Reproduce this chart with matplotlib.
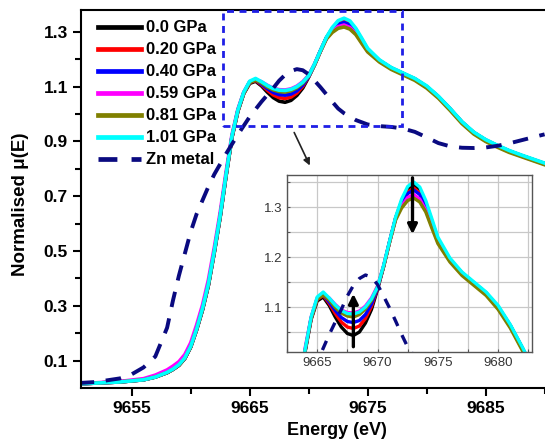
import numpy as np
import matplotlib
matplotlib.use("Agg")
import matplotlib.pyplot as plt
from matplotlib.patches import Rectangle, FancyArrowPatch

plt.rcParams['font.family'] = ['Liberation Sans', 'DejaVu Sans']

# energy grid for the Zn K-edge spectra (eV)
energy = [9650.5, 9652, 9654, 9656, 9657, 9658, 9658.5, 9659, 9659.5, 9660,
          9660.5, 9661, 9661.5, 9662, 9662.5, 9663, 9663.5, 9664, 9664.5, 9665,
          9665.5, 9666, 9666.5, 9667, 9667.5, 9668, 9668.5, 9669, 9669.5, 9670,
          9670.5, 9671, 9671.5, 9672, 9672.5, 9673, 9673.5, 9674, 9674.5, 9675,
          9676, 9677, 9678, 9679, 9680, 9681, 9682, 9683, 9684, 9685,
          9686, 9687, 9688, 9689, 9690]

mu_000 = [0.015, 0.018, 0.022, 0.030, 0.040, 0.056, 0.068, 0.083, 0.108, 0.150,
          0.212, 0.285, 0.375, 0.495, 0.625, 0.775, 0.915, 1.010, 1.075, 1.112,
          1.120, 1.103, 1.080, 1.060, 1.047, 1.043, 1.050, 1.068, 1.095, 1.135,
          1.180, 1.230, 1.278, 1.312, 1.336, 1.345, 1.335, 1.308, 1.272, 1.236,
          1.195, 1.168, 1.148, 1.128, 1.100, 1.063, 1.018, 0.970, 0.932, 0.905,
          0.884, 0.865, 0.849, 0.834, 0.819]
mu_020 = [0.015, 0.018, 0.022, 0.030, 0.040, 0.056, 0.068, 0.083, 0.108, 0.150,
          0.213, 0.286, 0.376, 0.496, 0.626, 0.776, 0.916, 1.012, 1.077, 1.115,
          1.123, 1.107, 1.087, 1.070, 1.060, 1.057, 1.062, 1.077, 1.101, 1.137,
          1.181, 1.231, 1.278, 1.309, 1.330, 1.338, 1.328, 1.304, 1.269, 1.234,
          1.195, 1.168, 1.148, 1.128, 1.100, 1.063, 1.018, 0.970, 0.932, 0.905,
          0.884, 0.865, 0.849, 0.834, 0.819]
mu_040 = [0.015, 0.018, 0.022, 0.030, 0.040, 0.056, 0.068, 0.083, 0.108, 0.150,
          0.214, 0.287, 0.377, 0.497, 0.627, 0.777, 0.917, 1.013, 1.078, 1.117,
          1.125, 1.110, 1.093, 1.079, 1.071, 1.069, 1.073, 1.085, 1.106, 1.138,
          1.181, 1.231, 1.277, 1.306, 1.327, 1.334, 1.325, 1.301, 1.267, 1.233,
          1.195, 1.168, 1.148, 1.128, 1.100, 1.063, 1.018, 0.970, 0.932, 0.905,
          0.884, 0.865, 0.849, 0.834, 0.819]
mu_059 = [0.016, 0.019, 0.024, 0.034, 0.047, 0.066, 0.080, 0.096, 0.122, 0.165,
          0.230, 0.303, 0.395, 0.513, 0.642, 0.790, 0.925, 1.018, 1.080, 1.118,
          1.126, 1.118, 1.105, 1.094, 1.089, 1.088, 1.092, 1.102, 1.118, 1.142,
          1.182, 1.230, 1.276, 1.302, 1.319, 1.325, 1.316, 1.294, 1.262, 1.230,
          1.193, 1.166, 1.146, 1.126, 1.098, 1.061, 1.016, 0.968, 0.930, 0.903,
          0.882, 0.863, 0.847, 0.832, 0.817]
mu_081 = [0.015, 0.018, 0.022, 0.030, 0.040, 0.056, 0.068, 0.083, 0.108, 0.150,
          0.214, 0.287, 0.377, 0.497, 0.627, 0.777, 0.917, 1.013, 1.077, 1.116,
          1.124, 1.114, 1.099, 1.088, 1.082, 1.080, 1.085, 1.096, 1.113, 1.140,
          1.180, 1.229, 1.274, 1.298, 1.313, 1.318, 1.310, 1.290, 1.258, 1.227,
          1.190, 1.163, 1.143, 1.123, 1.095, 1.058, 1.013, 0.965, 0.927, 0.900,
          0.879, 0.860, 0.845, 0.830, 0.815]
mu_101 = [0.015, 0.018, 0.022, 0.030, 0.040, 0.057, 0.069, 0.085, 0.110, 0.152,
          0.215, 0.290, 0.380, 0.500, 0.630, 0.780, 0.920, 1.015, 1.080, 1.120,
          1.130, 1.118, 1.104, 1.093, 1.087, 1.086, 1.090, 1.100, 1.116, 1.140,
          1.183, 1.232, 1.280, 1.316, 1.341, 1.350, 1.340, 1.313, 1.277, 1.240,
          1.198, 1.170, 1.150, 1.130, 1.103, 1.065, 1.020, 0.972, 0.934, 0.907,
          0.886, 0.867, 0.851, 0.836, 0.821]

pressures = ['0.0 GPa', '0.20 GPa', '0.40 GPa', '0.59 GPa', '0.81 GPa', '1.01 GPa']
colors = ['black', 'red', 'blue', 'magenta', '#808000', 'cyan']
spectra = [mu_000, mu_020, mu_040, mu_059, mu_081, mu_101]

# Zn metal reference foil
zn_energy = [9650.5, 9652, 9654, 9655, 9656, 9657, 9658, 9658.5, 9659, 9659.5,
             9660, 9660.5, 9661, 9661.5, 9662, 9663, 9664, 9665, 9666, 9667, 9667.5,
             9668, 9668.5, 9669, 9669.5, 9670, 9670.5, 9671, 9671.5, 9672, 9672.5,
             9673, 9674, 9675, 9676, 9677, 9678, 9679, 9680, 9681, 9682,
             9683, 9684, 9685, 9686, 9687, 9688, 9689, 9690]
zn_mu = [0.018, 0.022, 0.035, 0.050, 0.075, 0.115, 0.220, 0.320, 0.410, 0.490,
         0.570, 0.635, 0.685, 0.735, 0.780, 0.855, 0.925, 0.990, 1.045, 1.095, 1.122,
         1.143, 1.157, 1.164, 1.160, 1.145, 1.122, 1.098, 1.072, 1.045, 1.020,
         1.003, 0.978, 0.962, 0.956, 0.953, 0.947, 0.935, 0.915, 0.894, 0.882,
         0.877, 0.876, 0.878, 0.884, 0.893, 0.904, 0.915, 0.926]

zoom_box = (9662.7, 0.957, 9677.9, 1.375)

fig = plt.figure(figsize=(5.45, 4.43), dpi=100)
ax = fig.add_axes([0.1486, 0.1242, 0.9394, 0.8533])

for mu, c, lab in zip(spectra, colors, pressures):
    ax.plot(energy, mu, color=c, lw=2.6, label=lab)
ax.plot(zn_energy, zn_mu, color='#0a0a80', lw=2.8, ls=(0, (4, 3)), label='Zn metal')

ax.set_xlim(9650.7, 9694.1)
ax.set_ylim(0.0, 1.38)
ax.set_xticks([9655, 9665, 9675, 9685])
ax.set_xticks([9660, 9670, 9680, 9690], minor=True)
ax.set_yticks([0.1, 0.3, 0.5, 0.7, 0.9, 1.1, 1.3])
ax.set_yticks([0.2, 0.4, 0.6, 0.8, 1.0, 1.2], minor=True)
ax.tick_params(which='major', direction='out', length=6, width=1.5, labelsize=12.5)
ax.tick_params(which='minor', direction='out', length=4, width=1.5)
for lab in ax.get_xticklabels() + ax.get_yticklabels():
    lab.set_fontweight('bold')
for s in ax.spines.values():
    s.set_linewidth(1.5)
ax.set_xlabel('Energy (eV)', fontsize=13, fontweight='bold', labelpad=0)
ax.set_ylabel('Normalised μ(E)', fontsize=13.5, fontweight='bold')
ax.xaxis.set_label_coords((337 - 81) / 512, -0.09)
ax.yaxis.set_label_coords(-0.102, 0.486)

leg = ax.legend(loc='upper left', bbox_to_anchor=(0.004, 1.012), frameon=False,
                handlelength=2.6, handletextpad=0.3, labelspacing=0.42,
                prop={'weight': 'bold', 'size': 12})
for h in leg.get_lines():
    h.set_linewidth(3.4)

x0, y0, x1, y1 = zoom_box
ax.add_patch(Rectangle((x0, y0), x1 - x0, y1 - y0, fill=False, edgecolor='#1f1fe6',
                       lw=2, ls=(0, (2.5, 2)), zorder=5, clip_on=False))

fig.add_artist(FancyArrowPatch((293 / 545, 1 - 130 / 443), (311 / 545, 1 - 168 / 443),
                               transform=fig.transFigure, arrowstyle='-|>',
                               mutation_scale=10, color='#222222', lw=1.2))

# inset: close-up of the pre-edge and white-line region
axin = fig.add_axes([0.5266, 0.2054, 0.4495, 0.3995])
for mu, c in zip(spectra, colors):
    axin.plot(energy, mu, color=c, lw=2.4)
axin.plot(zn_energy, zn_mu, color='#0a0a80', lw=2.4, ls=(0, (3, 3)))
axin.set_xlim(9662.6, 9682.8)
axin.set_ylim(1.01, 1.364)
axin.set_xticks([9665, 9670, 9675, 9680])
axin.set_xticks([9662.5, 9667.5, 9672.5, 9677.5, 9682.5], minor=True)
axin.set_yticks([1.1, 1.2, 1.3])
axin.set_yticks([1.05, 1.15, 1.25, 1.35], minor=True)
axin.grid(which='both', color='#c8c8c8', lw=0.9)
axin.set_axisbelow(True)
axin.tick_params(which='both', direction='in', length=2, width=0.8, color='#555555',
                 labelsize=9.5, labelcolor='#333333')
for s in axin.spines.values():
    s.set_linewidth(1.0)
    s.set_color('#555555')

axin.annotate('', xy=(9668.0, 1.132), xytext=(9668.0, 1.015),
              arrowprops=dict(arrowstyle='-|>', color='black', lw=2.4, mutation_scale=14))
axin.annotate('', xy=(9672.9, 1.24), xytext=(9672.9, 1.364),
              arrowprops=dict(arrowstyle='-|>', color='black', lw=2.4, mutation_scale=14))

fig.savefig('out.png', dpi=100)
